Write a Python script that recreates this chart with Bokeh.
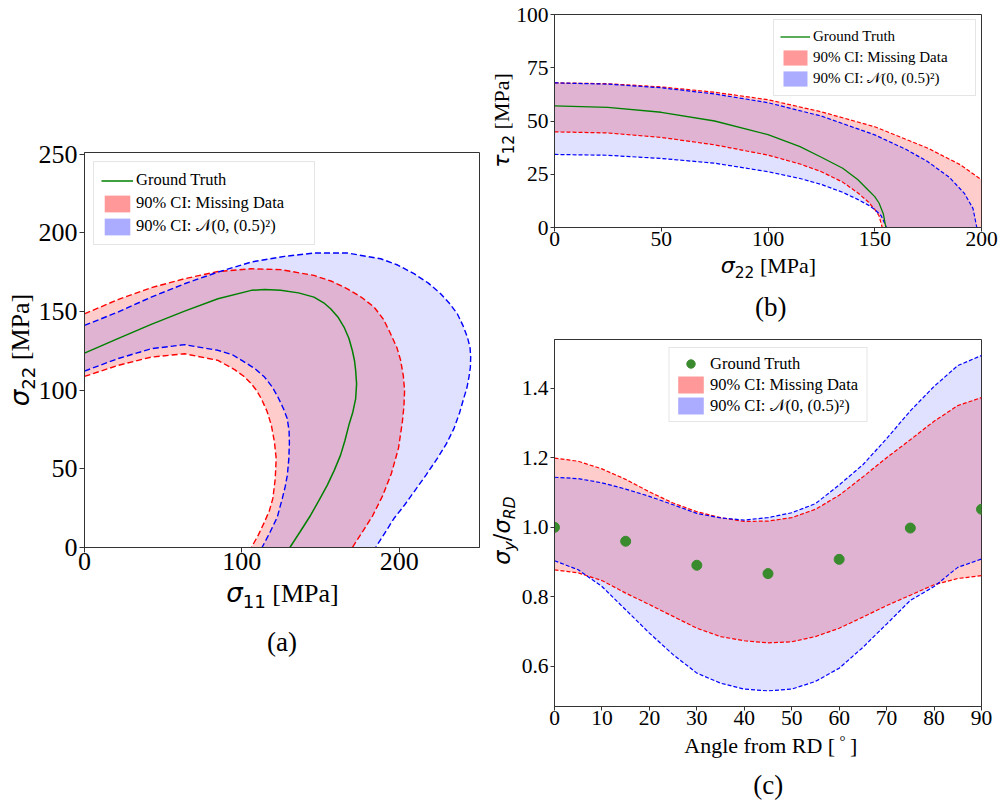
import math
from bokeh.plotting import figure
from bokeh.models import Range1d, FixedTicker, Legend, LegendItem, Div, NumeralTickFormatter
from bokeh.layouts import row, column
from bokeh.embed import file_html
from bokeh.resources import INLINE

# ---------------- data: panel (a)  sigma11 vs sigma22 ----------------
A_GT_X = [0, 21.2, 42.4, 63.6, 84.8, 106.0, 114.4, 124.6, 136.0, 145.8, 152.0, 156.4, 161.0, 164.9, 168.0, 170.2, 171.6, 172.3, 172.9, 172.3, 170.5, 168.0, 165.5, 162.7, 158.7, 154.3, 149.0, 143.7, 137.0, 130.5]
A_GT_Y = [123.5, 132.7, 141.8, 150.2, 158.1, 163.4, 164.0, 163.4, 161.8, 159.1, 155.5, 151.7, 146.5, 140.1, 133.0, 125.2, 118.5, 112.5, 104.0, 94.5, 86.0, 77.8, 68.0, 58.7, 49.0, 39.6, 30.0, 20.5, 10.0, 0]
A_RU_X = [0, 21.2, 42.4, 63.6, 84.8, 106.0, 124.6, 145.8, 157.0, 167.0, 176.0, 184.0, 190.0, 194.5, 198.5, 200.9, 202.6, 203.4, 203.0, 202.0, 199.5, 195.0, 189.5, 183.0, 177.0, 170.2]
A_RU_Y = [148.5, 157.5, 165.1, 170.8, 175.4, 177.1, 176.6, 172.9, 169.2, 164.4, 159.0, 152.8, 145.0, 135.8, 127.0, 118.9, 109.0, 99.8, 90.0, 80.0, 63.0, 47.0, 33.0, 20.0, 10.5, 0]
A_RL_X = [0, 21.2, 42.4, 63.6, 84.8, 95.4, 101.0, 106.0, 109.5, 112.3, 116.0, 118.7, 120.7, 121.8, 121.2, 119.7, 117.5, 114.4, 110.5, 106.0]
A_RL_Y = [108.7, 115.7, 121.0, 123.1, 118.9, 113.0, 109.0, 104.1, 99.5, 94.7, 86.5, 77.8, 67.0, 56.6, 43.7, 31.2, 23.5, 16.3, 8.0, 0]
A_BU_X = [0, 21.2, 42.4, 63.6, 84.8, 106.0, 127.1, 145.8, 167.0, 188.2, 199.0, 209.4, 218.5, 226.3, 232.0, 236.9, 240.5, 243.3, 245.0, 245.4, 245.2, 244.3, 243.0, 241.1, 238.3, 234.8, 230.0, 224.2, 217.0, 209.4, 203.0, 196.6, 190.7, 185.0]
A_BU_Y = [141.1, 149.6, 159.1, 167.6, 175.0, 181.4, 185.0, 187.1, 187.1, 183.5, 179.5, 174.0, 168.0, 161.3, 155.0, 148.5, 141.0, 133.7, 127.0, 121.0, 114.5, 108.3, 101.5, 95.2, 85.5, 75.7, 66.0, 56.6, 46.0, 35.4, 26.5, 18.4, 9.0, 0]
A_BL_X = [0, 21.2, 42.4, 63.6, 84.8, 94.0, 101.7, 108.5, 114.4, 119.3, 122.9, 126.3, 128.8, 130.0, 130.2, 129.8, 128.9, 127.5, 125.7, 122.5, 117.8, 112.8]
A_BL_Y = [112.1, 120.0, 126.3, 128.9, 125.3, 122.5, 117.8, 113.5, 108.3, 102.0, 95.6, 88.5, 82.0, 74.0, 66.5, 56.0, 46.0, 38.5, 31.2, 19.3, 9.5, 0]
A_XTICKS = [0, 100, 200]
A_YTICKS = [0, 50, 100, 150, 200, 250]

# ---------------- data: panel (b)  sigma22 vs tau12 ----------------
B_GT_X = [0, 25, 50, 75, 100, 115, 125, 135, 142, 147, 150, 152, 154, 155.2]
B_GT_Y = [57.1, 56.4, 54.1, 50.0, 43.6, 38.0, 33.0, 27.8, 22.5, 17.5, 14.5, 11.5, 6.5, 0]
B_RU_X = [0, 25, 50, 75, 100, 125, 150, 175, 190, 200]
B_RU_Y = [67.9, 67.5, 66.0, 63.5, 60.0, 54.3, 47.3, 37.2, 29.5, 22.4]
B_RL_X = [0, 25, 50, 75, 100, 115, 125, 135, 142, 147, 150, 152, 153.5]
B_RL_Y = [44.9, 44.4, 42.3, 38.8, 34.0, 29.8, 26.2, 21.3, 16.3, 12.0, 8.5, 5.5, 0]
B_BU_X = [0, 25, 50, 75, 100, 125, 150, 165, 175, 185, 192, 196, 197.8]
B_BU_Y = [67.9, 67.3, 65.6, 62.7, 58.6, 52.3, 43.5, 36.5, 30.8, 23.5, 16.0, 9.0, 0]
B_BL_X = [0, 25, 50, 75, 100, 115, 125, 135, 142, 147, 150, 153, 155.5]
B_BL_Y = [34.3, 33.9, 32.4, 30.2, 26.2, 23.0, 20.2, 16.5, 13.2, 10.5, 8.5, 5.5, 0]
B_XTICKS = [0, 50, 100, 150, 200]
B_YTICKS = [0, 25, 50, 75, 100]

# ---------------- data: panel (c)  normalised yield stress vs angle ----------------
C_ANG = [0, 5, 10, 15, 20, 25, 30, 35, 40, 45, 50, 55, 60, 65, 70, 75, 80, 85, 90]
C_RU = [1.199, 1.190, 1.168, 1.138, 1.102, 1.070, 1.045, 1.028, 1.017, 1.018, 1.028, 1.052, 1.092, 1.145, 1.200, 1.252, 1.305, 1.350, 1.373]
C_BU = [1.144, 1.140, 1.128, 1.110, 1.089, 1.065, 1.040, 1.027, 1.021, 1.028, 1.042, 1.068, 1.122, 1.180, 1.255, 1.335, 1.405, 1.465, 1.494]
C_RL = [0.878, 0.869, 0.847, 0.811, 0.778, 0.744, 0.710, 0.686, 0.674, 0.668, 0.671, 0.686, 0.710, 0.742, 0.775, 0.805, 0.835, 0.853, 0.861]
C_BL = [0.904, 0.878, 0.830, 0.763, 0.696, 0.634, 0.581, 0.552, 0.535, 0.530, 0.535, 0.557, 0.595, 0.655, 0.722, 0.790, 0.830, 0.885, 0.909]
C_GT_ANG = [0, 15, 30, 45, 60, 75, 90]
C_GT = [1.000, 0.960, 0.891, 0.867, 0.908, 0.998, 1.052]
C_XTICKS = [0, 10, 20, 30, 40, 50, 60, 70, 80, 90]
C_YTICKS = [0.6, 0.8, 1.0, 1.2, 1.4]

LABELS = ["Ground Truth", "90% CI: Missing Data", "90% CI: \U0001D4A9(0, (0.5)\u00b2)"]

SERIF = "Liberation Serif"
RED = "#ff0000"
BLUE = "#0000ff"
GREEN = "#008000"
DOT = "#3a8a2e"
AX = "#333333"


def make_fig(w, h, left, right, top, bottom, xr, yr, xticks, yticks, tick_px, tick_len):
    p = figure(width=w, height=h, x_range=Range1d(*xr), y_range=Range1d(*yr),
               output_backend="svg", toolbar_location=None,
               min_border_left=left, min_border_right=right,
               min_border_top=top, min_border_bottom=bottom)
    p.xgrid.visible = False
    p.ygrid.visible = False
    p.outline_line_color = AX
    p.outline_line_width = 1
    p.outline_line_alpha = 1
    p.background_fill_color = "white"
    p.border_fill_color = "white"
    for ax, ticks in ((p.xaxis[0], xticks), (p.yaxis[0], yticks)):
        ax.ticker = FixedTicker(ticks=ticks)
        ax.axis_line_color = AX
        ax.major_tick_line_color = AX
        ax.major_tick_out = tick_len
        ax.major_tick_in = 0
        ax.minor_tick_out = 0
        ax.minor_tick_in = 0
        ax.major_label_text_font = SERIF
        ax.major_label_text_font_size = f"{tick_px}px"
        ax.major_label_text_color = "black"
    p.xaxis.major_label_standoff = 0
    p.yaxis.major_label_standoff = 2
    return p


def band_patch(p, ux, uy, lx, ly, color, alpha, corner=None):
    xs = list(ux) + ([corner[0]] if corner else []) + list(lx)[::-1]
    ys = list(uy) + ([corner[1]] if corner else []) + list(ly)[::-1]
    p.patch(xs, ys, fill_color=color, fill_alpha=alpha, line_color=None)


def dashed(p, x, y, color, width, dash):
    p.line(x, y, line_color=color, line_width=width, line_dash=dash)


def add_legend(p, first_renderer, location, margin, font_px, gw, gh, lh, lw, spacing, padding, standoff):
    dr = p.patch([math.nan], [math.nan], fill_color=RED, fill_alpha=0.4, line_color=None)
    db = p.patch([math.nan], [math.nan], fill_color=BLUE, fill_alpha=0.33, line_color=None)
    items = [LegendItem(label=LABELS[0], renderers=[first_renderer]),
             LegendItem(label=LABELS[1], renderers=[dr]),
             LegendItem(label=LABELS[2], renderers=[db])]
    lg = Legend(items=items, location=location, margin=margin,
                label_text_font=SERIF, label_text_font_size=f"{font_px}px",
                label_text_color="black",
                glyph_width=gw, glyph_height=gh, label_height=lh, label_width=lw,
                spacing=spacing, padding=padding, label_standoff=standoff,
                border_line_color="#cccccc", border_line_width=1,
                background_fill_color="white", background_fill_alpha=0.8,
                label_text_baseline="middle")
    p.add_layout(lg)


def math_html(sym, sub, fs, rest=" [MPa]"):
    return (f"<span style=\"font-family:'DejaVu Sans';font-style:italic\">{sym}</span>"
            f"<span style=\"font-family:'DejaVu Sans';font-size:{0.7 * fs:.1f}px;position:relative;top:{0.22 * fs:.1f}px\">{sub}</span>"
            f"{rest}")


def text_div(html, center, baseline, fs, width, rotate=False):
    # center: x-centre (horizontal) or y-centre (rotated); baseline: y (horizontal) or x (rotated)
    L = round(fs * 1.3)
    off = (L - 1.107 * fs) / 2 + 0.891 * fs
    if rotate:
        ccx = baseline - (off - L / 2.0)
        left = ccx - width / 2.0
        top = center - L / 2.0
    else:
        left = center - width / 2.0
        top = baseline - off
    styles = {"position": "absolute", "left": f"{left:.1f}px", "top": f"{top:.1f}px",
              "width": f"{width}px", "height": f"{L}px", "line-height": f"{L}px",
              "font-family": f"'{SERIF}'", "font-size": f"{fs}px", "color": "black",
              "text-align": "center", "white-space": "nowrap", "margin": "0", "padding": "0",
              "overflow": "visible", "pointer-events": "none", "z-index": "5"}
    if rotate:
        styles["transform"] = "rotate(-90deg)"
        styles["transform-origin"] = "50% 50%"
    return Div(text=html, width=width, height=L, styles=styles)


# ================= panel (a) =================
pa = make_fig(482, 600, 84, 3, 152, 53, (0, 251), (0, 251), A_XTICKS, A_YTICKS, 26, 5)
band_patch(pa, A_RU_X, A_RU_Y, A_RL_X, A_RL_Y, RED, 0.2)
band_patch(pa, A_BU_X, A_BU_Y, A_BL_X, A_BL_Y, BLUE, 0.12)
for xx, yy, c in ((A_RU_X, A_RU_Y, RED), (A_RL_X, A_RL_Y, RED), (A_BU_X, A_BU_Y, BLUE), (A_BL_X, A_BL_Y, BLUE)):
    dashed(pa, xx, yy, c, 1.4, "6 3")
gta = pa.line(A_GT_X, A_GT_Y, line_color=GREEN, line_width=1.5)
add_legend(pa, gta, "top_left", 9, 16.5, 32, 21, 22, 171, 1, 7, 3)

# ================= panel (b) =================
pb = make_fig(523, 330, 72, 24, 14, 103, (0, 200), (0, 100), B_XTICKS, B_YTICKS, 21.5, 4)
band_patch(pb, B_RU_X, B_RU_Y, B_RL_X, B_RL_Y, RED, 0.2, corner=(B_XTICKS[-1], 0))
band_patch(pb, B_BU_X, B_BU_Y, B_BL_X, B_BL_Y, BLUE, 0.12)
for xx, yy, c in ((B_RU_X, B_RU_Y, RED), (B_RL_X, B_RL_Y, RED), (B_BU_X, B_BU_Y, BLUE), (B_BL_X, B_BL_Y, BLUE)):
    dashed(pb, xx, yy, c, 1.2, "4 2")
gtb = pb.line(B_GT_X, B_GT_Y, line_color=GREEN, line_width=1.3)
add_legend(pb, gtb, "top_right", 5, 15, 30, 19, 21, 156, 0, 6, 3)

# ================= panel (c) =================
pc = make_fig(523, 420, 68, 15, 9, 44, (0, 90), (0.485, 1.54), C_XTICKS, C_YTICKS, 21.5, 4)
pc.yaxis[0].formatter = NumeralTickFormatter(format="0.0")
pc.varea(C_ANG, C_RL, C_RU, fill_color=RED, fill_alpha=0.2)
pc.varea(C_ANG, C_BL, C_BU, fill_color=BLUE, fill_alpha=0.12)
for yy, c in ((C_RU, RED), (C_RL, RED), (C_BU, BLUE), (C_BL, BLUE)):
    dashed(pc, C_ANG, yy, c, 1.2, "4 2")
gtc = pc.scatter(C_GT_ANG, C_GT, size=10, fill_color=DOT, line_color=DOT)
add_legend(pc, gtc, "top_center", 8, 16.5, 32, 21, 21, 151, 0, 5, 4)

# ================= text (axis labels and captions) =================
texts = [
    text_div(math_html("\u03c3", "11", 26), 282.5, 602, 26, 220),
    text_div(math_html("\u03c3", "22", 26), 349.5, 28.3, 26, 220, rotate=True),
    text_div("(a)", 282, 652, 27, 80),
    text_div(math_html("\u03c3", "22", 22), 768.5, 273, 22, 180),
    text_div(math_html("\u03c4", "12", 22), 120, 508, 22, 180, rotate=True),
    text_div("(b)", 770.8, 317, 27, 80),
    text_div("Angle from RD [\u2009<span style=\"font-size:15px;position:relative;top:-7px\">\u00b0</span>\u2009]", 770.8, 753, 22, 240),
    text_div(f"<span style=\"font-family:'DejaVu Sans'\"><i>\u03c3</i><span style=\"font-size:15.7px;position:relative;top:5px\"><i>y</i></span>/<i>\u03c3</i><span style=\"font-size:15.7px;position:relative;top:5px\"><i>RD</i></span></span>", 530, 510, 22.5, 160, rotate=True),
    text_div("(c)", 768.3, 795, 27, 80),
]

layout = column(row(pa, column(pb, pc)), *texts)
open("out.html", "w").write(file_html(layout, INLINE, "yield surfaces"))
